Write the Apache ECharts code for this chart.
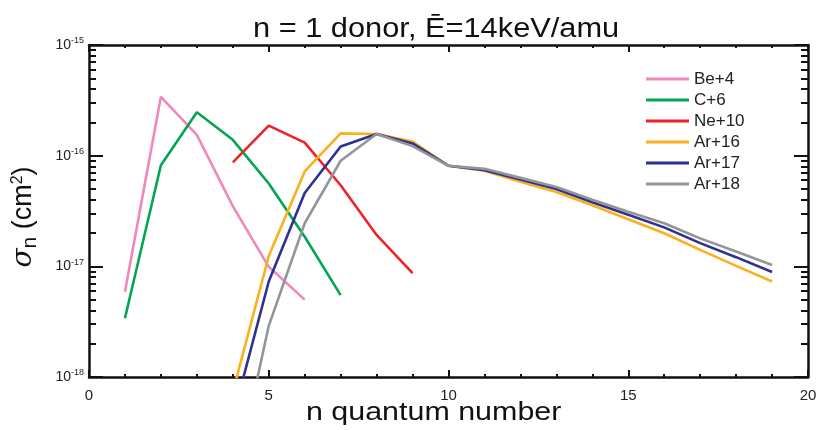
<!DOCTYPE html>
<html>
<head>
<meta charset="utf-8">
<script src="https://cdn.jsdelivr.net/npm/echarts@6/dist/echarts.min.js"></script>
<style>
  html, body { margin: 0; padding: 0; background: #fff; }
  #chart { width: 819px; height: 430px; }
</style>
</head>
<body>
<div id="chart"></div>
<script>
'use strict';
// n quantum numbers and cross sections (cm^2)
var be4N = [1, 2, 3, 4, 5, 6];
var be4 = [5.9e-18, 3.4e-16, 1.54e-16, 3.5e-17, 9.9e-18, 5.0e-18];

var c6N = [1, 2, 3, 4, 5, 6, 7];
var c6 = [3.4e-18, 8.2e-17, 2.47e-16, 1.39e-16, 5.6e-17, 1.85e-17, 5.5e-18];

var ne10N = [4, 5, 6, 7, 8, 9];
var ne10 = [8.7e-17, 1.87e-16, 1.31e-16, 5.4e-17, 1.92e-17, 8.7e-18];

var arN = [4, 5, 6, 7, 8, 9, 10, 11, 12, 13, 14, 15, 16, 17, 18, 19];
var ar16 = [7.3e-19, 1.24e-17, 7.2e-17, 1.59e-16, 1.57e-16, 1.34e-16, 8.1e-17, 7.3e-17,
            5.8e-17, 4.7e-17, 3.56e-17, 2.66e-17, 1.99e-17, 1.41e-17, 1.01e-17, 7.3e-18];
var ar17 = [4.3e-19, 7.3e-18, 4.6e-17, 1.21e-16, 1.57e-16, 1.29e-16, 8.1e-17, 7.4e-17,
            6.1e-17, 5.0e-17, 3.8e-17, 2.93e-17, 2.25e-17, 1.62e-17, 1.21e-17, 8.9e-18];
var ar18 = [9.3e-20, 2.9e-18, 2.45e-17, 9.0e-17, 1.57e-16, 1.22e-16, 8.1e-17, 7.6e-17,
            6.3e-17, 5.2e-17, 4.0e-17, 3.12e-17, 2.45e-17, 1.79e-17, 1.36e-17, 1.03e-17];

var seriesNames = ['Be+4', 'C+6', 'Ne+10', 'Ar+16', 'Ar+17', 'Ar+18'];
var seriesColors = ['#F088BC', '#00A651', '#ED2327', '#FBB01D', '#2E3192', '#939598'];

// decade exponents of the y axis and the minor tick positions (log10 of 2..9 x 10^d)
var yDecades = [-18, -17, -16, -15];
var yMinor = [];
yDecades.slice(0, 3).forEach(function (d) {
    for (var k = 2; k <= 9; k++) yMinor.push(d + Math.log10(k));
});

var FONT = '"Liberation Sans", Arial, sans-serif';

function pairs(xs, ys) {
    return xs.map(function (x, i) { return [x, ys[i]]; });
}

var chart = echarts.init(document.getElementById('chart'));

var xBase = {
    type: 'value', min: 0, max: 20, interval: 5,
    axisLine: { lineStyle: { color: '#111', width: 2.5 } },
    axisTick: { inside: true, length: 7, lineStyle: { color: '#111', width: 2 } },
    minorTick: { show: true, splitNumber: 5, length: 3, lineStyle: { color: '#111', width: 2 } },
    splitLine: { show: false }
};

var yMajorBase = {
    type: 'log', logBase: 10, min: 1e-18, max: 1e-15,
    axisLine: { show: true, lineStyle: { color: '#111', width: 2.5 } },
    axisTick: { inside: true, length: 14, lineStyle: { color: '#111', width: 2 } },
    splitLine: { show: false }
};

var yMinorBase = {
    type: 'value', min: -18, max: -15,
    axisLine: { show: false },
    axisTick: { inside: true, length: 7, customValues: yMinor, lineStyle: { color: '#111', width: 2 } },
    axisLabel: { show: false },
    splitLine: { show: false }
};

var option = {
    backgroundColor: '#fff',
    animation: false,
    graphic: [
        {
            type: 'text', left: 253, top: 16, scaleX: 1.14,
            style: { text: 'n = 1 donor, Ē=14keV/amu', font: '27px ' + FONT, fill: '#111' }
        },
        {
            type: 'text', left: 306, top: 400, scaleX: 1.17,
            style: { text: 'n quantum number', font: '26px ' + FONT, fill: '#111' }
        }
    ],
    legend: {
        orient: 'vertical', left: 646, top: 70, padding: 0,
        icon: 'rect', itemWidth: 43, itemHeight: 3, itemGap: 3,
        data: seriesNames,
        textStyle: { fontFamily: FONT, fontSize: 17, color: '#222', lineHeight: 18 }
    },
    grid: { left: 89, right: 11, top: 45, bottom: 53, containLabel: false, outerBoundsMode: 'none' },
    xAxis: [
        echarts.util.merge({
            position: 'bottom',
            axisLabel: { fontFamily: FONT, fontSize: 15, color: '#222', margin: 11 }
        }, xBase, true),
        echarts.util.merge({ position: 'top', axisLabel: { show: false } }, xBase, true)
    ],
    yAxis: [
        echarts.util.merge({
            position: 'left',
            name: '{s|σ}{sub|n}{t| (cm}{sup|2}{t|)}', nameLocation: 'middle', nameGap: 48, nameRotate: 90,
            nameTextStyle: {
                color: '#111',
                padding: [0, 12, 0, 0],
                rich: {
                    s: { fontFamily: '"DejaVu Serif", serif', fontStyle: 'italic', fontSize: 28, color: '#111' },
                    sub: { fontFamily: FONT, fontSize: 21, color: '#111', padding: [13, 0, 0, 0] },
                    t: { fontFamily: FONT, fontSize: 27, color: '#111' },
                    sup: { fontFamily: FONT, fontSize: 16, color: '#111', padding: [0, 0, 13, 0] }
                }
            },
            axisLabel: {
                margin: 5,
                formatter: function (v) {
                    return '{b|10}{e|' + Math.round(Math.log10(v)) + '}';
                },
                rich: {
                    b: { fontFamily: FONT, fontSize: 14, color: '#222' },
                    e: { fontFamily: FONT, fontSize: 9, color: '#222', padding: [0, 0, 8, 0] }
                }
            }
        }, yMajorBase, true),
        echarts.util.merge({ position: 'left' }, yMinorBase, true),
        echarts.util.merge({ position: 'right', axisLabel: { show: false } }, yMajorBase, true),
        echarts.util.merge({ position: 'right' }, yMinorBase, true)
    ],
    series: [
        [be4N, be4], [c6N, c6], [ne10N, ne10], [arN, ar16], [arN, ar17], [arN, ar18]
    ].map(function (d, i) {
        return {
            name: seriesNames[i],
            type: 'line',
            xAxisIndex: 0, yAxisIndex: 0,
            showSymbol: false, symbol: 'none',
            clip: true,
            itemStyle: { color: seriesColors[i] },
            lineStyle: { color: seriesColors[i], width: 2.6 },
            data: pairs(d[0], d[1])
        };
    })
};

chart.setOption(option);
</script>
</body>
</html>
